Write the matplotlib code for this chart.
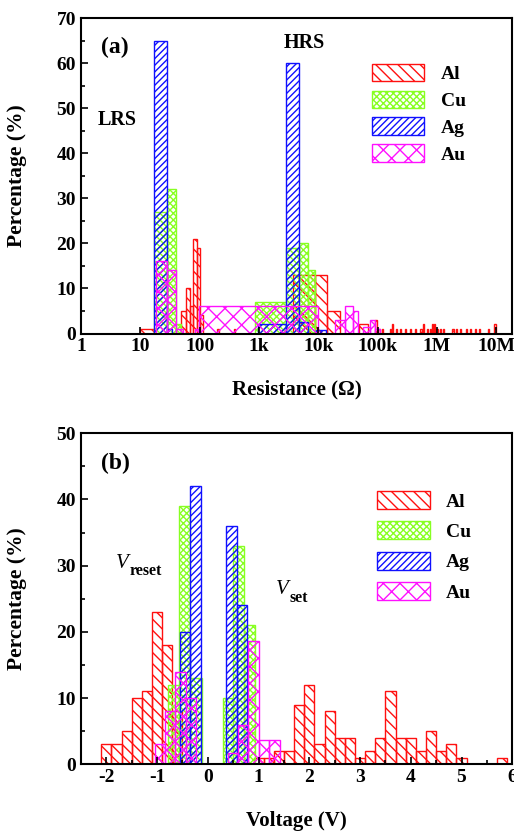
import matplotlib
matplotlib.use("Agg")
import matplotlib.pyplot as plt
from matplotlib.ticker import MultipleLocator, NullLocator, FixedLocator, FixedFormatter

plt.rcParams['font.family'] = ['Liberation Serif', 'DejaVu Serif']
plt.rcParams['font.weight'] = 'bold'
plt.rcParams['axes.unicode_minus'] = False
plt.rcParams['hatch.linewidth'] = 1.0

# ---------------- data: panel (a) resistance histograms ----------------
al_a_left = [10, 48, 58, 68, 78, 89, 100, 200, 380, 3800, 8800, 13900, 49000, 91000]
al_a_right = [17, 58, 68, 78, 89, 100, 115, 215, 400, 8800, 13900, 23300, 70000, 99000]
al_a_pct = [1, 5, 10, 6, 21, 19, 4, 1, 1, 13, 13, 5, 2, 3]

al_tail_left = [1.03e5, 1.17e5, 1.62e5, 1.76e5, 2.04e5, 2.40e5, 2.88e5, 3.55e5, 4.27e5,
                5.25e5, 5.89e5, 6.76e5, 7.59e5, 8.32e5, 8.91e5, 9.77e5, 1.12e6, 1.26e6,
                1.82e6, 2.09e6, 2.45e6, 3.09e6, 3.63e6, 4.37e6, 5.13e6, 7.24e6, 9.33e6]
al_tail_right = [1.08e5, 1.23e5, 1.70e5, 1.85e5, 2.14e5, 2.52e5, 3.02e5, 3.73e5, 4.48e5,
                 5.51e5, 6.18e5, 7.10e5, 7.97e5, 8.74e5, 9.36e5, 1.03e6, 1.18e6, 1.32e6,
                 1.91e6, 2.19e6, 2.57e6, 3.24e6, 3.81e6, 4.59e6, 5.39e6, 7.60e6, 9.80e6]
al_tail_pct = [1, 1, 1, 2, 1, 1, 1, 1, 1, 1, 2, 1, 1, 2, 2, 1, 1, 1, 1, 1, 1, 1, 1, 1, 1, 1, 2]

cu_a_left = [17.2, 27.9, 40, 860, 2870, 4800, 6810]
cu_a_right = [27.9, 40, 48, 2870, 4800, 6810, 8830]
cu_a_pct = [27, 32, 2, 7, 19, 20, 14]

ag_a_left = [17.2, 27.9, 980, 2870, 4800, 9000]
ag_a_right = [27.9, 34, 2870, 4800, 6810, 13500]
ag_a_pct = [65, 1, 2, 60, 2.5, 0.7]

au_a_left = [18.2, 28.5, 40, 85, 99, 19000, 28300, 39000, 56000, 75000, 91000]
au_a_right = [28.5, 40, 52, 99, 9800, 28300, 39000, 47500, 75000, 91000, 110000]
au_a_pct = [16, 14, 1, 1, 6, 3, 6, 5, 1.5, 3, 1]

r_ticks = [1, 10, 100, 1e3, 1e4, 1e5, 1e6, 1e7]
r_ticklabels = ['1', '10', '100', '1k', '10k', '100k', '1M', '10M']

# ---------------- data: panel (b) voltage histograms ----------------
al_b_left = [-2.1, -1.9, -1.7, -1.5, -1.3, -1.1, -0.9, -0.7, 0.9, 1.1, 1.3, 1.5, 1.7, 1.9,
             2.1, 2.3, 2.5, 2.7, 2.9, 3.1, 3.3, 3.5, 3.7, 3.9, 4.1, 4.3, 4.5, 4.7, 4.9, 5.7]
al_b_right = [-1.9, -1.7, -1.5, -1.3, -1.1, -0.9, -0.7, -0.5, 1.1, 1.3, 1.5, 1.7, 1.9, 2.1,
              2.3, 2.5, 2.7, 2.9, 3.1, 3.3, 3.5, 3.7, 3.9, 4.1, 4.3, 4.5, 4.7, 4.9, 5.1, 5.9]
al_b_pct = [3, 3, 5, 10, 11, 23, 18, 8, 1, 1, 2, 2, 9, 12,
            3, 8, 4, 4, 1, 2, 4, 11, 4, 4, 2, 5, 2, 3, 1, 1]

cu_b_left = [-0.78, -0.56, -0.35, 0.30, 0.50, 0.71]
cu_b_right = [-0.56, -0.35, -0.12, 0.50, 0.71, 0.93]
cu_b_pct = [12, 39, 13, 10, 33, 21]

ag_b_left = [-0.545, -0.35, 0.35, 0.57]
ag_b_right = [-0.35, -0.14, 0.57, 0.77]
ag_b_pct = [20, 42, 36, 24]

au_b_left = [-1.05, -0.84, -0.64, -0.43, 0.39, 0.59, 0.79, 1.00, 1.21]
au_b_right = [-0.84, -0.64, -0.43, -0.23, 0.59, 0.79, 1.00, 1.21, 1.42]
au_b_pct = [3, 8, 14, 10, 1.7, 6, 18.7, 3.7, 3.7]

metals = ['Al', 'Cu', 'Ag', 'Au']
colors = {'Al': '#ff1010', 'Cu': '#88ff22', 'Ag': '#1010ff', 'Au': '#ff10ff'}
hatches = {'Al': '\\\\\\', 'Cu': 'xxxxx', 'Ag': '/////', 'Au': 'xx'}

W, H = 514, 831
fig = plt.figure(figsize=(W / 100, H / 100), dpi=100)


def frac(x, y):
    return x / W, 1 - y / H


def draw_bars(ax, left, right, pct, m, label=None):
    widths = [r - l for l, r in zip(left, right)]
    return ax.bar(left, pct, width=widths, align='edge', facecolor='none',
                  edgecolor=colors[m], hatch=hatches[m], linewidth=1.0, label=label)


def style_axes(ax):
    for s in ax.spines.values():
        s.set_linewidth(1.5)
    ax.tick_params(which='both', direction='in', top=False, right=False,
                   labelsize=14, width=1.2)
    ax.tick_params(which='major', length=5)
    ax.tick_params(which='minor', length=3)
    for lab in ax.get_xticklabels() + ax.get_yticklabels():
        lab.set_fontweight('bold')


# ---------------- panel (a) ----------------
axa = fig.add_axes([81 / W, 1 - 333.5 / H, 431.3 / W, 315.2 / H])
axa.set_xscale('log')
ha = {}
ha['Al'] = draw_bars(axa, al_a_left, al_a_right, al_a_pct, 'Al', 'Al')
draw_bars(axa, al_tail_left, al_tail_right, al_tail_pct, 'Al')
ha['Cu'] = draw_bars(axa, cu_a_left, cu_a_right, cu_a_pct, 'Cu', 'Cu')
ha['Ag'] = draw_bars(axa, ag_a_left, ag_a_right, ag_a_pct, 'Ag', 'Ag')
ha['Au'] = draw_bars(axa, au_a_left, au_a_right, au_a_pct, 'Au', 'Au')
axa.set_xlim(1, 1.87e7)
axa.set_ylim(0, 70)
axa.xaxis.set_major_locator(FixedLocator(r_ticks))
axa.xaxis.set_major_formatter(FixedFormatter(r_ticklabels))
axa.xaxis.set_minor_locator(NullLocator())
axa.yaxis.set_major_locator(MultipleLocator(10))
axa.yaxis.set_minor_locator(MultipleLocator(5))
style_axes(axa)
axa.set_xlabel('Resistance (\u03a9)', fontsize=15, fontweight='bold')
axa.set_ylabel('Percentage (%)', fontsize=15.5, fontweight='bold')
axa.xaxis.set_label_coords(0.5, -0.145)
axa.yaxis.set_label_coords(-0.125, 0.5)
fig.text(*frac(115, 47), '(a)', fontsize=17, fontweight='bold', ha='center', va='center')
fig.text(*frac(304, 43), 'HRS', fontsize=14.5, fontweight='bold', ha='center', va='center')
fig.text(*frac(117, 120), 'LRS', fontsize=14.5, fontweight='bold', ha='center', va='center')
axa.legend([ha[m] for m in metals], metals, loc='upper left',
           bbox_to_anchor=frac(371.7, 64), bbox_transform=fig.transFigure,
           frameon=False, handlelength=2.7, handleheight=1.0,
           labelspacing=0.38, handletextpad=0.85, borderpad=0, borderaxespad=0,
           prop={'weight': 'bold', 'size': 14})

# ---------------- panel (b) ----------------
axb = fig.add_axes([81 / W, 1 - 764.3 / H, 431.3 / W, 331 / H])
hb = {}
hb['Al'] = draw_bars(axb, al_b_left, al_b_right, al_b_pct, 'Al', 'Al')
hb['Cu'] = draw_bars(axb, cu_b_left, cu_b_right, cu_b_pct, 'Cu', 'Cu')
hb['Ag'] = draw_bars(axb, ag_b_left, ag_b_right, ag_b_pct, 'Ag', 'Ag')
hb['Au'] = draw_bars(axb, au_b_left, au_b_right, au_b_pct, 'Au', 'Au')
axb.set_xlim(-2.5, 6)
axb.set_ylim(0, 50)
axb.xaxis.set_major_locator(MultipleLocator(1))
axb.xaxis.set_minor_locator(MultipleLocator(0.5))
axb.yaxis.set_major_locator(MultipleLocator(10))
axb.yaxis.set_minor_locator(MultipleLocator(5))
style_axes(axb)
axb.set_xlabel('Voltage (V)', fontsize=15, fontweight='bold')
axb.set_ylabel('Percentage (%)', fontsize=15.5, fontweight='bold')
axb.xaxis.set_label_coords(0.5, -0.14)
axb.yaxis.set_label_coords(-0.125, 0.5)
fig.text(*frac(115.5, 463), '(b)', fontsize=17, fontweight='bold', ha='center', va='center')
fig.text(*frac(116, 568.5), 'V', fontsize=15, fontstyle='italic', fontweight='normal',
         ha='left', va='baseline')
fig.text(*frac(130, 575), 'reset', fontsize=11.5, fontweight='bold', ha='left', va='baseline')
fig.text(*frac(276, 593.5), 'V', fontsize=15, fontstyle='italic', fontweight='normal',
         ha='left', va='baseline')
fig.text(*frac(289, 601.5), 'set', fontsize=11.5, fontweight='bold', ha='left', va='baseline')
axb.legend([hb[m] for m in metals], metals, loc='upper left',
           bbox_to_anchor=frac(376.7, 491), bbox_transform=fig.transFigure,
           frameon=False, handlelength=2.75, handleheight=1.05,
           labelspacing=0.55, handletextpad=0.8, borderpad=0, borderaxespad=0,
           prop={'weight': 'bold', 'size': 14})

fig.savefig('out.png', dpi=100)
